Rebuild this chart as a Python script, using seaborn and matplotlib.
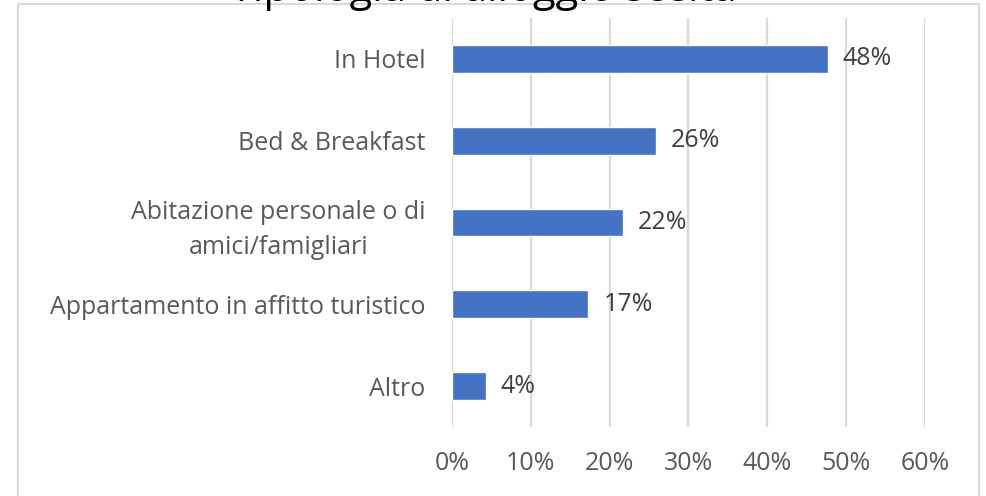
import seaborn as sns
import matplotlib.pyplot as plt
import pandas as pd
from matplotlib.patches import Rectangle

categories = ['In Hotel', 'Bed & Breakfast', 'Abitazione personale o di\namici/famigliari',
              'Appartamento in affitto turistico', 'Altro']
values = [47.7, 25.9, 21.7, 17.3, 4.3]
bar_labels = ['48%', '26%', '22%', '17%', '4%']
xticks = [0, 10, 20, 30, 40, 50, 60]
xtick_labels = ['0%', '10%', '20%', '30%', '40%', '50%', '60%']
title = 'Tipologia di alloggio scelta'

df = pd.DataFrame({'categoria': categories, 'valore': values})

sns.set_style('white')
plt.rcParams['font.family'] = ['Open Sans', 'DejaVu Sans']

fig = plt.figure(figsize=(9.86, 4.96), dpi=100)
ax = fig.add_axes([0.4584, 0.139, 0.4797, 0.825])

sns.barplot(data=df, x='valore', y='categoria', orient='h', color='#4472C4',
            width=0.34, saturation=1, ax=ax, zorder=3)

for i, (v, lab) in enumerate(zip(values, bar_labels)):
    ax.text(v + 1.9, i, lab, va='center', ha='left', fontsize=18, color='#404040')

ax.set_xlim(0, 60)
ax.set_ylim(4.5, -0.5)
ax.set_xticks(xticks)
ax.set_xticklabels(xtick_labels)
ax.xaxis.grid(True, color='#D9D9D9', linewidth=1.6, zorder=0)
ax.set_xlabel('')
ax.set_ylabel('')
for s in ax.spines.values():
    s.set_visible(False)
ax.tick_params(axis='x', length=0, pad=17, labelsize=18, labelcolor='#595959')
ax.tick_params(axis='y', length=0, pad=19, labelsize=18, labelcolor='#595959')
for t in ax.get_yticklabels():
    t.set_multialignment('center')
    t.set_linespacing(1.5)

fig.text(0.49, 0.9985, title, ha='center', va='baseline', fontsize=30, color='#000000')

fig.patches.append(Rectangle((0.018, -0.1), 0.975, 1.092, transform=fig.transFigure,
                             fill=False, edgecolor='#D9D9D9', linewidth=1.5))

fig.savefig('out.png', dpi=100)
